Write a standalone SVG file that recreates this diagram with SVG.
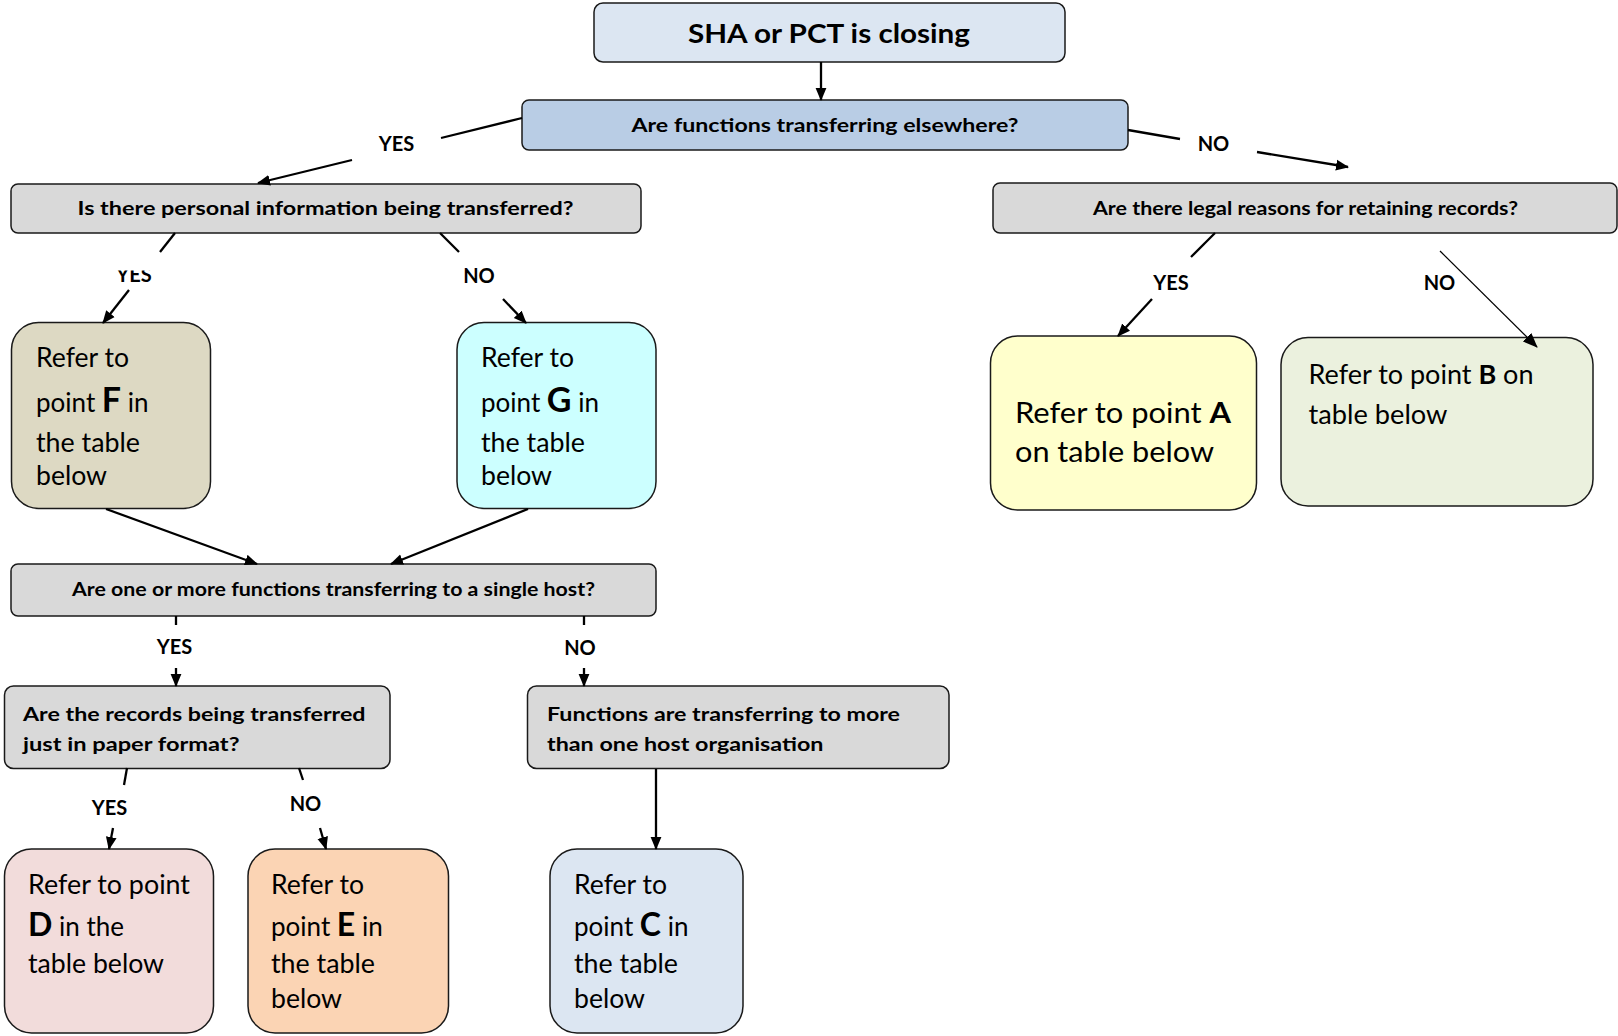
<svg xmlns="http://www.w3.org/2000/svg" width="1618" height="1036" viewBox="0 0 1618 1036">
<style>
.box{stroke:#1a1a1a;stroke-width:1.5}
.q{font-family:Lato,"Liberation Sans",sans-serif;font-weight:bold;font-size:18.5px;fill:#000}
.t{font-family:Lato,"Liberation Sans",sans-serif;font-size:26px;fill:#000}
.big{font-weight:bold;font-size:34px}
.bl{font-weight:bold}
.lbl{font-family:Lato,"Liberation Sans",sans-serif;font-weight:bold;font-size:20px;fill:#000;text-anchor:middle}
.c{stroke:#000;stroke-width:2.3;fill:none}
.ca{stroke:#000;stroke-width:2.3;fill:none;marker-end:url(#arr)}
.thin{stroke:#000;stroke-width:1.2;fill:none;marker-end:url(#arr2)}
</style>
<defs>
<marker id="arr" markerUnits="userSpaceOnUse" markerWidth="13" markerHeight="12" viewBox="0 0 13 12" refX="12" refY="6" orient="auto">
<path d="M0,0.6 L13,6 L0,11.4 Z" fill="#000"/>
</marker>
<marker id="arr2" markerUnits="userSpaceOnUse" markerWidth="15" markerHeight="13" viewBox="0 0 15 13" refX="14" refY="6.5" orient="auto">
<path d="M0,0.5 L15,6.5 L0,12.5 Z" fill="#000"/>
</marker>
<clipPath id="clipYes"><rect x="100" y="270.5" width="70" height="20"/></clipPath>
</defs>
<rect width="1618" height="1036" fill="#fff"/>

<g id="n-closing">
<rect class="box" x="594" y="3" width="471" height="59" rx="9" fill="#dce6f2"/>
<text class="q" style="font-size:26px" x="688" y="42.5" textLength="282" lengthAdjust="spacingAndGlyphs">SHA or PCT is closing</text>
</g>
<g id="n-functions">
<rect class="box" x="522" y="100" width="606" height="50" rx="7" fill="#b9cde5"/>
<text class="q" x="631.5" y="132" textLength="387" lengthAdjust="spacingAndGlyphs">Are functions transferring elsewhere?</text>
</g>
<g id="n-personal">
<rect class="box" x="11" y="184" width="630" height="49" rx="7" fill="#d9d9d9"/>
<text class="q" x="77.5" y="215" textLength="496" lengthAdjust="spacingAndGlyphs">Is there personal information being transferred?</text>
</g>
<g id="n-legal">
<rect class="box" x="993" y="183" width="624" height="50" rx="7" fill="#d9d9d9"/>
<text class="q" x="1093" y="214.5" textLength="425" lengthAdjust="spacingAndGlyphs">Are there legal reasons for retaining records?</text>
</g>
<g id="n-F">
<rect class="box" x="11.5" y="322.5" width="199" height="186" rx="27" fill="#ddd9c3"/>
<text class="t" x="36" y="367" textLength="93" lengthAdjust="spacingAndGlyphs">Refer to</text>
<text class="t" x="36" y="412">point <tspan class="big">F</tspan> in</text>
<text class="t" x="36" y="452" textLength="104" lengthAdjust="spacingAndGlyphs">the table</text>
<text class="t" x="36" y="485" textLength="71" lengthAdjust="spacingAndGlyphs">below</text>
</g>
<g id="n-G">
<rect class="box" x="457" y="322.5" width="199" height="186" rx="27" fill="#ccffff"/>
<text class="t" x="481" y="367" textLength="93" lengthAdjust="spacingAndGlyphs">Refer to</text>
<text class="t" x="481" y="412">point <tspan class="big">G</tspan> in</text>
<text class="t" x="481" y="452" textLength="104" lengthAdjust="spacingAndGlyphs">the table</text>
<text class="t" x="481" y="485" textLength="71" lengthAdjust="spacingAndGlyphs">below</text>
</g>
<g id="n-A">
<rect class="box" x="990.5" y="336" width="266" height="174" rx="27" fill="#ffffcc"/>
<text class="t" style="font-size:29px" x="1015" y="423" textLength="216" lengthAdjust="spacingAndGlyphs">Refer to point <tspan class="bl">A</tspan></text>
<text class="t" style="font-size:29px" x="1015" y="462" textLength="199" lengthAdjust="spacingAndGlyphs">on table below</text>
</g>
<g id="n-B">
<rect class="box" x="1281" y="337.5" width="312" height="168.5" rx="27" fill="#ebf1de"/>
<text class="t" x="1308.5" y="384" textLength="225" lengthAdjust="spacingAndGlyphs">Refer to point <tspan class="bl">B</tspan> on</text>
<text class="t" x="1308.5" y="424" textLength="139" lengthAdjust="spacingAndGlyphs">table below</text>
</g>
<g id="n-single-host">
<rect class="box" x="11" y="564" width="645" height="52" rx="7" fill="#d9d9d9"/>
<text class="q" x="72" y="596" textLength="523" lengthAdjust="spacingAndGlyphs">Are one or more functions transferring to a single host?</text>
</g>
<g id="n-paper">
<rect class="box" x="4.5" y="686" width="385.5" height="82.5" rx="9" fill="#d9d9d9"/>
<text class="q" x="23" y="721" textLength="342.5" lengthAdjust="spacingAndGlyphs">Are the records being transferred</text>
<text class="q" x="23" y="751" textLength="216.5" lengthAdjust="spacingAndGlyphs">just in paper format?</text>
</g>
<g id="n-multi-host">
<rect class="box" x="527.5" y="686" width="421.5" height="82.5" rx="9" fill="#d9d9d9"/>
<text class="q" x="547" y="721" textLength="353" lengthAdjust="spacingAndGlyphs">Functions are transferring to more</text>
<text class="q" x="547" y="751" textLength="276.5" lengthAdjust="spacingAndGlyphs">than one host organisation</text>
</g>
<g id="n-D">
<rect class="box" x="4.5" y="849" width="209" height="184" rx="27" fill="#f2dcdb"/>
<text class="t" x="28" y="894" textLength="162" lengthAdjust="spacingAndGlyphs">Refer to point</text>
<text class="t" x="28" y="936"><tspan class="big" style="font-size:32px">D</tspan> in the</text>
<text class="t" x="28" y="973" textLength="136" lengthAdjust="spacingAndGlyphs">table below</text>
</g>
<g id="n-E">
<rect class="box" x="248" y="849" width="200.5" height="184" rx="27" fill="#fbd4b4"/>
<text class="t" x="271" y="894" textLength="93" lengthAdjust="spacingAndGlyphs">Refer to</text>
<text class="t" x="271" y="936">point <tspan class="big" style="font-size:32px">E</tspan> in</text>
<text class="t" x="271" y="973" textLength="104" lengthAdjust="spacingAndGlyphs">the table</text>
<text class="t" x="271" y="1008" textLength="71" lengthAdjust="spacingAndGlyphs">below</text>
</g>
<g id="n-C">
<rect class="box" x="550" y="849" width="193" height="184" rx="27" fill="#dce6f2"/>
<text class="t" x="574" y="894" textLength="93" lengthAdjust="spacingAndGlyphs">Refer to</text>
<text class="t" x="574" y="936">point <tspan class="big" style="font-size:32px">C</tspan> in</text>
<text class="t" x="574" y="973" textLength="104" lengthAdjust="spacingAndGlyphs">the table</text>
<text class="t" x="574" y="1008" textLength="71" lengthAdjust="spacingAndGlyphs">below</text>
</g>

<g id="connectors">
<line class="ca" x1="821" y1="62" x2="821" y2="100"/>
<line class="c" x1="522" y1="118" x2="441" y2="138"/>
<line class="ca" x1="352" y1="160" x2="258" y2="183"/>
<line class="c" x1="1128" y1="130" x2="1180" y2="139"/>
<line class="ca" x1="1257" y1="152" x2="1348" y2="167"/>
<line class="c" x1="175" y1="233" x2="160" y2="252"/>
<line class="ca" x1="129" y1="290" x2="103" y2="323"/>
<line class="c" x1="440" y1="233" x2="459" y2="252"/>
<line class="ca" x1="503" y1="299" x2="526" y2="323"/>
<line class="c" x1="1215" y1="233" x2="1191" y2="257"/>
<line class="ca" x1="1152" y1="299" x2="1118" y2="336"/>
<line class="thin" x1="1440" y1="251" x2="1537" y2="347"/>
<line class="ca" x1="106" y1="509" x2="257" y2="564"/>
<line class="ca" x1="528" y1="509" x2="391" y2="564"/>
<line class="c" x1="176" y1="616" x2="176" y2="625"/>
<line class="ca" x1="176" y1="668" x2="176" y2="686"/>
<line class="c" x1="584" y1="616" x2="584" y2="625"/>
<line class="ca" x1="584" y1="668" x2="584" y2="686"/>
<line class="c" x1="127" y1="768" x2="124" y2="785"/>
<line class="ca" x1="113" y1="828" x2="109" y2="849"/>
<line class="c" x1="299" y1="768" x2="303" y2="780"/>
<line class="ca" x1="320" y1="828" x2="326" y2="849"/>
<line class="ca" x1="656" y1="769" x2="656" y2="849"/>
<text class="lbl" x="396.5" y="150.5">YES</text>
<text class="lbl" x="1213.5" y="150.5">NO</text>
<text class="lbl" x="134" y="281.5" clip-path="url(#clipYes)">YES</text>
<text class="lbl" x="479" y="283">NO</text>
<text class="lbl" x="1171" y="290">YES</text>
<text class="lbl" x="1439.5" y="290">NO</text>
<text class="lbl" x="174.5" y="654">YES</text>
<text class="lbl" x="580" y="655">NO</text>
<text class="lbl" x="109.5" y="815">YES</text>
<text class="lbl" x="305.5" y="811">NO</text>
</g>
</svg>
